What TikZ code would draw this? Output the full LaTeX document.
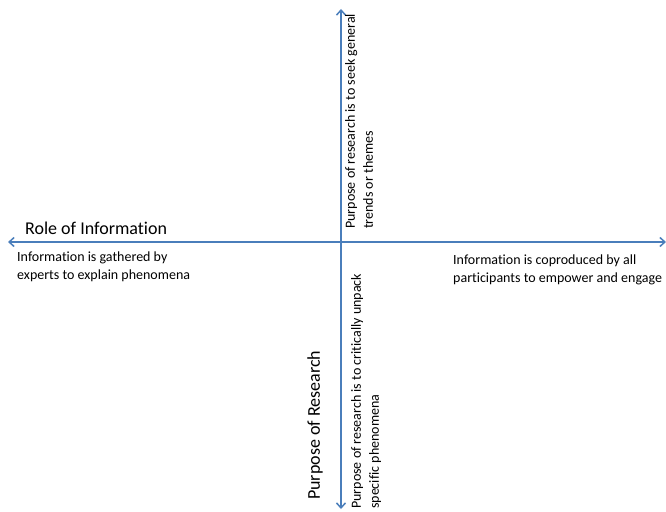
\documentclass[tikz,border=0pt]{standalone}
\usepackage{fontspec}
\setmainfont{Carlito}[RawFeature=-liga]
\usepackage{xcolor}
\usetikzlibrary{arrows.meta,positioning}
\definecolor{axisblue}{HTML}{4A7EBB}
\tikzset{
  axisline/.style={draw=axisblue,line width=1.5pt,{Straight Barb[length=5pt,width=9pt]}-{Straight Barb[length=5pt,width=9pt]}},
  titletext/.style={inner sep=0pt,font=\fontsize{18}{22}\selectfont},
  poletext/.style={inner sep=0pt,align=left,font=\fontsize{14}{18}\selectfont}
}
\begin{document}
\begin{tikzpicture}[x=1pt,y=-1pt]
		\useasboundingbox (0,0) rectangle (666,511);
		\coordinate (west) at (8,242);
		\coordinate (east) at (666,242);
		\coordinate (north) at (341,9);
		\coordinate (south) at (341,509);
		\draw [axisline] (west) -- (east);
		\draw [axisline] (south) -- (north);
		\node[titletext,anchor=west] (roleinfo) at (25,228) {Role of Information};
		\node[titletext,anchor=west,rotate=90] (purpose) at (315,500) {Purpose of Research};
		\node[poletext,anchor=north west] (experts) at (17,252) {Information is gathered by\\experts to explain phenomena};
		\node[poletext,anchor=north west] (coproduced) at (453,255) {Information is coproduced by all\\participants to empower and engage};
		\node[poletext,anchor=north west,rotate=90] (general) at (345,229) {Purpose of research is to seek general\\trends or themes};
		\node[poletext,anchor=north west,rotate=90] (specific) at (351,509) {Purpose of research is to critically unpack\\specific phenomena};
	\end{tikzpicture}
\end{document}
